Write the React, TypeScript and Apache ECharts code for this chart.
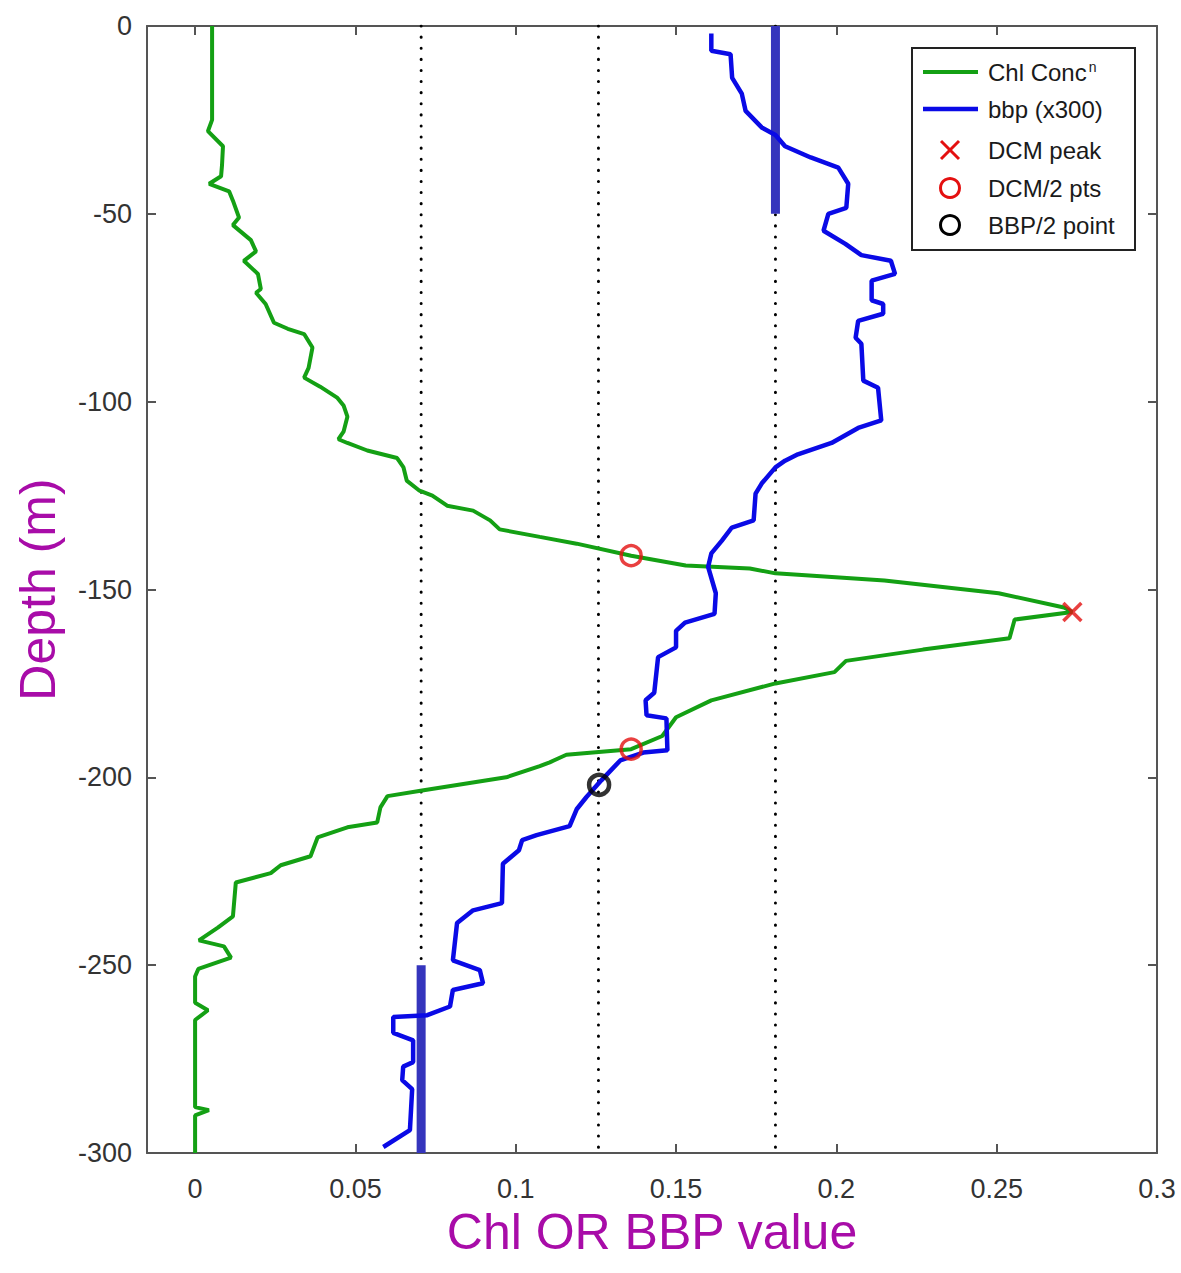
import React, { useEffect, useRef } from "react";
import * as echarts from "echarts";

// ---- Chlorophyll profile (normalised) ----
const chlValues = [
  0.0053, 0.0053, 0.004, 0.0087, 0.0084, 0.0081, 0.0044, 0.0106, 0.0118, 0.0137,
  0.0118, 0.0174, 0.019, 0.0152, 0.0196, 0.0205, 0.019, 0.022, 0.0246, 0.0289,
  0.034, 0.0366, 0.0354, 0.034, 0.039, 0.0444, 0.0463, 0.0475, 0.0463, 0.0447,
  0.0475, 0.0537, 0.063, 0.065, 0.066, 0.07, 0.074, 0.0786, 0.0867, 0.092,
  0.095, 0.1075, 0.119, 0.136, 0.153, 0.173, 0.181, 0.215, 0.2506, 0.271,
  0.2736, 0.2556, 0.254, 0.227, 0.203, 0.1994, 0.181, 0.161, 0.15, 0.1457,
  0.136, 0.1158, 0.1106, 0.1075, 0.097, 0.0708, 0.06, 0.0578, 0.0568, 0.0475,
  0.0382, 0.036, 0.0267, 0.0236, 0.0127, 0.0118, 0.0071, 0.0012, 0.009, 0.0112,
  0.001, 0, 0, 0.004, 0, 0, 0.0043, 0, 0,
];
const chlDepths = [
  0, -25, -28, -32, -37, -40, -42, -44, -46.5, -51,
  -53, -57, -60, -62.5, -66, -70, -71, -74, -79, -80.6,
  -82, -85.6, -91, -93.6, -96, -99, -101, -104, -108, -110,
  -111, -113, -115, -117.5, -121, -123.7, -125, -127.7, -129, -131.6,
  -134, -136, -137.8, -141, -143.6, -144.4, -145.7, -147.6, -151, -154.8,
  -156, -158, -163, -166, -169, -172, -175, -179.5, -184, -189,
  -192.5, -194, -196, -197, -200, -203.5, -205, -208, -212, -213.3,
  -216, -221, -223.4, -225.5, -228, -237, -240, -243.4, -245, -248,
  -251, -253, -260, -262, -264.6, -287.8, -288.6, -290, -300,
];

// ---- Backscattering profile (x300) ----
const bbpValues = [
  0.161, 0.161, 0.167, 0.1675, 0.1705, 0.1717, 0.1767, 0.181, 0.184, 0.192,
  0.2006, 0.2037, 0.2031, 0.1975, 0.196, 0.2028, 0.2078, 0.217, 0.2183, 0.211,
  0.211, 0.2146, 0.2146, 0.2068, 0.206, 0.2078, 0.2084, 0.213, 0.214, 0.2068,
  0.1985, 0.188, 0.184, 0.181, 0.1767, 0.1748, 0.1742, 0.1674, 0.1643, 0.161,
  0.16, 0.1624, 0.162, 0.1528, 0.15, 0.15, 0.1444, 0.1432, 0.1405, 0.1408,
  0.147, 0.1473, 0.1398, 0.1326, 0.1267, 0.122, 0.119, 0.1168, 0.1065, 0.102,
  0.101, 0.096, 0.0957, 0.0867, 0.0817, 0.0804, 0.0888, 0.0898, 0.0804, 0.0795,
  0.0724, 0.0618, 0.0618, 0.068, 0.068, 0.0649, 0.0646, 0.0677, 0.067, 0.0587,
];
const bbpDepths = [
  -2, -6.6, -7.5, -13.8, -18, -22.6, -27, -29, -32, -35,
  -37.7, -42, -48.4, -50, -54.5, -58, -61, -62.5, -66, -67.8,
  -73, -74, -76.6, -78.5, -83, -84.6, -94.4, -96.3, -105, -107,
  -111, -114, -115.7, -117.5, -121.8, -124.5, -131.6, -133.5, -137, -140.4,
  -144, -151, -156.5, -158.8, -161, -165.4, -168, -177.5, -179.5, -183.5,
  -184.3, -192.8, -193.4, -195.5, -200.8, -205.3, -208.5, -213, -215.4, -216.7,
  -219.4, -223, -233.5, -235.4, -238.8, -248.7, -251.3, -254.8, -256.6, -261,
  -263.3, -263.8, -268, -270, -275.8, -277, -280.6, -283, -293.9, -298.4,
];

// ---- Reference lines and mean bars ----
const thresholdValues = [0.0705, 0.1258, 0.181];
const bbpMeanValues = [0.181, 0.0705];
const bbpMeanTops = [0, -250];
const bbpMeanBottoms = [-50, -300];

// ---- Markers ----
const dcmPeak = [[0.2736, -156]];
const dcmHalfPoints = [
  [0.136, -141],
  [0.136, -192.5],
];
const bbpHalfPoint = [[0.126, -202]];

// ---- Axes ----
const xTicks = [0, 0.05, 0.1, 0.15, 0.2, 0.25, 0.3];
const xMin = -0.015;
const xMax = 0.3;
const yMin = -300;
const yMax = 0;
const yStep = 50;

const FONT = "'Liberation Sans', Arial, Helvetica, sans-serif";
const AXIS_COLOR = "#555";
const TITLE_COLOR = "#a80ca8";
const GREEN = "#14a014";
const BLUE = "#0a0ae6";
const BAR_BLUE = "#3535bd";

export default function App() {
  const ref = useRef<HTMLDivElement>(null);

  useEffect(() => {
    if (!ref.current) return;
    const chart = echarts.init(ref.current, null, { renderer: "svg" });

    const chlData = chlValues.map((v, i) => [v, chlDepths[i]]);
    const bbpData = bbpValues.map((v, i) => [v, bbpDepths[i]]);

    const thresholdSeries = thresholdValues.map((v) => ({
      type: "line",
      data: [
        [v, yMax],
        [v, yMin],
      ],
      symbol: "none",
      silent: true,
      z: 1,
      lineStyle: { color: "#000", width: 3, type: [0.1, 11], cap: "round" },
    }));

    const meanSeries = bbpMeanValues.map((v, i) => ({
      type: "line",
      data: [
        [v, bbpMeanTops[i]],
        [v, bbpMeanBottoms[i]],
      ],
      symbol: "none",
      silent: true,
      z: 3,
      lineStyle: { color: BAR_BLUE, width: 9, cap: "butt" },
    }));

    const commonX = {
      type: "value",
      min: xMin,
      max: xMax,
      splitLine: { show: false },
      axisLine: { show: true, onZero: false, lineStyle: { color: AXIS_COLOR, width: 2 } },
      axisTick: {
        show: true,
        inside: true,
        length: 9,
        customValues: xTicks,
        lineStyle: { color: AXIS_COLOR, width: 2 },
      },
    };
    const commonY = {
      type: "value",
      min: yMin,
      max: yMax,
      interval: yStep,
      splitLine: { show: false },
      axisLine: { show: true, onZero: false, lineStyle: { color: AXIS_COLOR, width: 2 } },
      axisTick: { show: true, inside: true, length: 9, lineStyle: { color: AXIS_COLOR, width: 2 } },
    };

    const legendX = 912;
    const legendY = 48;
    const rowY = [72, 109, 150, 188, 225];
    const markX = 950;
    const textX = 988;
    const textStyle = { fontFamily: FONT, fontSize: 24, fill: "#1a1a1a", verticalAlign: "middle" };

    chart.setOption({
      animation: false,
      backgroundColor: "#fff",
      grid: { left: 147, right: 24, top: 26, bottom: 120, containLabel: false },
      xAxis: [
        {
          ...commonX,
          position: "bottom",
          name: "Chl OR BBP value",
          nameLocation: "middle",
          nameGap: 54,
          nameTextStyle: { color: TITLE_COLOR, fontSize: 50, fontFamily: FONT },
          axisLabel: {
            show: true,
            customValues: xTicks,
            margin: 22,
            color: "#333",
            fontSize: 27,
            fontFamily: FONT,
            formatter: (v: number) => String(v),
          },
        },
        {
          ...commonX,
          position: "top",
          axisLabel: { show: false },
        },
      ],
      yAxis: [
        {
          ...commonY,
          position: "left",
          name: "Depth (m)",
          nameLocation: "middle",
          nameGap: 84,
          nameRotate: 90,
          nameTextStyle: { color: TITLE_COLOR, fontSize: 50, fontFamily: FONT },
          axisLabel: { show: true, margin: 15, color: "#333", fontSize: 27, fontFamily: FONT },
        },
        {
          ...commonY,
          position: "right",
          axisLabel: { show: false },
        },
      ],
      series: [
        ...thresholdSeries,
        {
          name: "Chl Conc",
          type: "line",
          data: chlData,
          symbol: "none",
          z: 4,
          lineStyle: { color: GREEN, width: 4 },
        },
        {
          name: "bbp (x300)",
          type: "line",
          data: bbpData,
          symbol: "none",
          z: 4,
          lineStyle: { color: BLUE, width: 4.5 },
        },
        ...meanSeries,
        {
          name: "DCM peak",
          type: "scatter",
          data: dcmPeak,
          symbol: "path://M0,0L10,10M10,0L0,10",
          symbolSize: 18,
          z: 6,
          itemStyle: { color: "rgba(0,0,0,0)", borderColor: "#e41010", borderWidth: 3.5 },
        },
        {
          name: "DCM/2 pts",
          type: "scatter",
          data: dcmHalfPoints,
          symbol: "circle",
          symbolSize: 20,
          z: 6,
          itemStyle: { color: "rgba(0,0,0,0)", borderColor: "#e41010", borderWidth: 3.5 },
        },
        {
          name: "BBP/2 point",
          type: "scatter",
          data: bbpHalfPoint,
          symbol: "circle",
          symbolSize: 20,
          z: 6,
          itemStyle: { color: "rgba(0,0,0,0)", borderColor: "#000", borderWidth: 4.5 },
        },
      ],
      graphic: [
        {
          type: "group",
          z: 100,
          children: [
            {
              type: "rect",
              shape: { x: legendX, y: legendY, width: 223, height: 202 },
              style: { fill: "#fff", stroke: "#222", lineWidth: 2 },
            },
            {
              type: "line",
              shape: { x1: 923, y1: rowY[0], x2: 978, y2: rowY[0] },
              style: { stroke: GREEN, lineWidth: 4 },
            },
            {
              type: "line",
              shape: { x1: 923, y1: rowY[1], x2: 978, y2: rowY[1] },
              style: { stroke: BLUE, lineWidth: 4.5 },
            },
            {
              type: "line",
              shape: { x1: markX - 9, y1: rowY[2] - 9, x2: markX + 9, y2: rowY[2] + 9 },
              style: { stroke: "#e41010", lineWidth: 3 },
            },
            {
              type: "line",
              shape: { x1: markX + 9, y1: rowY[2] - 9, x2: markX - 9, y2: rowY[2] + 9 },
              style: { stroke: "#e41010", lineWidth: 3 },
            },
            {
              type: "circle",
              shape: { cx: markX, cy: rowY[3], r: 9.5 },
              style: { fill: "none", stroke: "#e41010", lineWidth: 3 },
            },
            {
              type: "circle",
              shape: { cx: markX, cy: rowY[4], r: 9.5 },
              style: { fill: "none", stroke: "#000", lineWidth: 3 },
            },
            {
              type: "text",
              x: textX,
              y: rowY[0],
              style: {
                ...textStyle,
                text: "Chl Conc{sup|n}",
                rich: { sup: { fontSize: 14, fontFamily: FONT, verticalAlign: "top", padding: [0, 0, 10, 2] } },
              },
            },
            { type: "text", x: textX, y: rowY[1], style: { ...textStyle, text: "bbp (x300)" } },
            { type: "text", x: textX, y: rowY[2], style: { ...textStyle, text: "DCM peak" } },
            { type: "text", x: textX, y: rowY[3], style: { ...textStyle, text: "DCM/2 pts" } },
            { type: "text", x: textX, y: rowY[4], style: { ...textStyle, text: "BBP/2 point" } },
          ],
        },
      ],
    });

    return () => chart.dispose();
  }, []);

  return (
    <div
      ref={ref}
      style={{ position: "absolute", left: 0, top: 0, width: 1181, height: 1273, background: "#fff" }}
    />
  );
}
